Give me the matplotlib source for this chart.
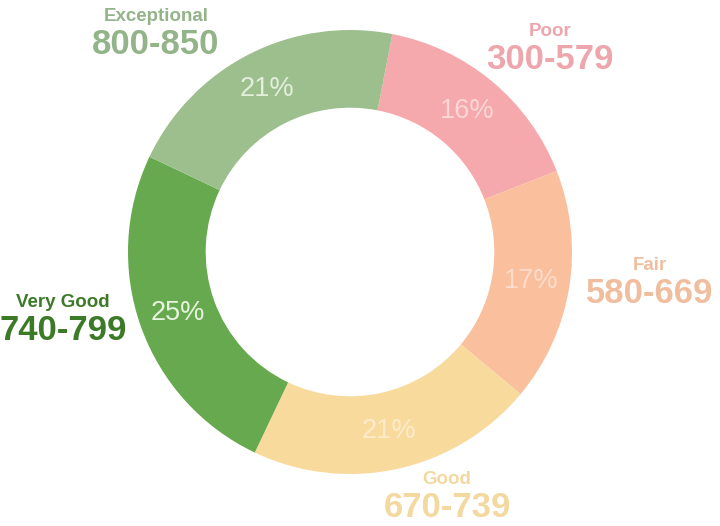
import matplotlib.pyplot as plt

# ----------------
# Data
# ----------------
categories = ["Poor", "Fair", "Good", "Very Good", "Exceptional"]
score_ranges = ["300-579", "580-669", "670-739", "740-799", "800-850"]
shares = [16, 17, 21, 25, 21]

wedge_colors = ["#F6A9AC", "#FABF9C", "#F9DA9D", "#67A94E", "#9CBF8D"]
label_colors = ["#EDA6AC", "#F0BE9F", "#F3D8A0", "#3C7A28", "#93B389"]
pct_colors = ["#FBD6D7", "#FDDCCB", "#FCEBCB", "#E6F3DE", "#E3EEDB"]

# label anchor (pixel position of the centre of the two-line label)
label_px = [(550, 44), (650, 278), (447, 492), (63, 315), (156, 29)]

plt.rcParams["font.family"] = ["Liberation Sans", "DejaVu Sans"]

W, H = 720, 526
cx, cy, R = 350, 252, 222  # pie centre and outer radius in pixels

fig = plt.figure(figsize=(W / 100, H / 100), dpi=100)
ax = fig.add_axes([0, 0, 1, 1])

wedges, texts, autotexts = ax.pie(
    shares,
    colors=wedge_colors,
    startangle=79,
    counterclock=False,
    radius=1,
    wedgeprops=dict(width=0.35, linewidth=0),
    autopct="%d%%",
    pctdistance=0.825,
    textprops=dict(fontsize=19.5),
)
for t, c in zip(autotexts, pct_colors):
    t.set_color(c)

for (px, py), name, rng, c in zip(label_px, categories, score_ranges, label_colors):
    x = (px - cx) / R
    y = (cy - py) / R
    ax.text(x, y + 0.02, name, ha="center", va="bottom", fontsize=13.5,
            fontweight="bold", color=c)
    ax.text(x, y + 0.003, rng, ha="center", va="top", fontsize=25,
            fontweight="bold", color=c)

ax.set_xlim(-cx / R, (W - cx) / R)
ax.set_ylim(-(H - cy) / R, cy / R)
ax.set_aspect("equal", adjustable="datalim")
ax.axis("off")

plt.savefig("out.png", dpi=100)
